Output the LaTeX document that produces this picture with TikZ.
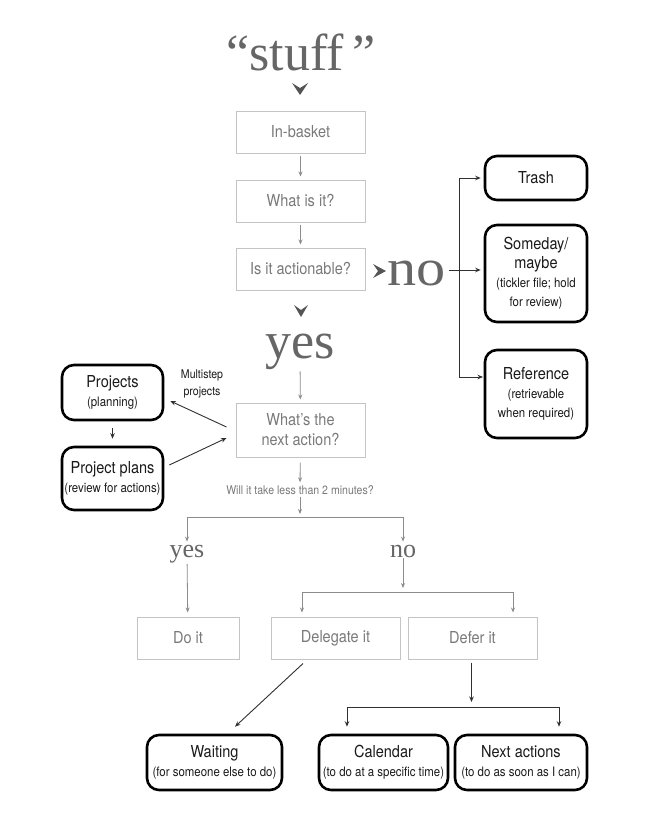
\documentclass[tikz,border=0pt]{standalone}
\usepackage{fontspec}
\setmainfont[FakeStretch=0.88]{TeX Gyre Heros}
\newfontfamily\bigserif{Liberation Serif}
\usetikzlibrary{arrows.meta,calc}
\definecolor{lbord}{HTML}{C4C4C4}
\definecolor{ltext}{HTML}{7A7A7A}
\definecolor{larrow}{HTML}{8C8C8C}
\definecolor{sertext}{HTML}{666666}
\definecolor{chevc}{HTML}{555555}
\definecolor{dtext}{HTML}{1A1A1A}
\definecolor{darrowc}{HTML}{303030}
\newcommand{\sm}[1]{{\fontsize{13}{19}\selectfont #1}}
\begin{document}
\begin{tikzpicture}[x=1pt,y=-1pt,
 lightbox/.style={draw=lbord, line width=1pt, text=ltext, minimum width=129pt, minimum height=42pt, inner sep=0pt, align=center, font=\fontsize{16.5}{20}\selectfont},
 darkbox/.style={draw=black, line width=2.6pt, rounded corners=12pt, text=dtext, inner sep=0pt, align=center, font=\fontsize{16.5}{19}\selectfont},
 garrow/.style={draw=larrow, line width=0.8pt, -{Stealth[length=5pt,width=4pt]}},
 gline/.style={draw=larrow, line width=0.8pt},
 darrowst/.style={draw=darrowc, line width=0.9pt, -{Stealth[length=5.5pt,width=4.5pt]}},
 dline/.style={draw=darrowc, line width=0.9pt},
 bigword/.style={font=\bigserif\fontsize{52}{52}\selectfont, text=sertext, inner sep=0pt},
 smallword/.style={font=\bigserif\fontsize{26}{26}\selectfont, text=sertext, inner sep=0pt},
 chev/.style={fill=chevc, draw=none}
]
\useasboundingbox[fill=white] (0,0) rectangle (646,817);

% main column
\node[bigword, anchor=base] (stuff) at (301,70) {“stuff\,”};
\fill[chev] (292,83) -- (300,88) -- (308,83) -- (300,95) -- cycle;
\node[lightbox] (inbasket) at (300.5,132) {In-basket};
\node[lightbox] (whatis) at (300.5,201) {What is it?};
\node[lightbox] (actionable) at (300.5,269) {Is it actionable?};
\fill[chev] (373,264) -- (378,271) -- (373,278) -- (386,271) -- cycle;
\node[bigword, anchor=base west, xscale=1.12] (no) at (387,285) {no};
\fill[chev] (294,305) -- (301,310) -- (308,305) -- (301,317) -- cycle;
\node[bigword, anchor=base] (yes) at (300,358) {yes};
\node[lightbox, minimum height=54pt] (nextaction) at (300.5,430) {What’s the\\next action?};
\node[text=ltext, font=\fontsize{12}{14}\selectfont, inner sep=1pt] (question) at (300,490) {Will it take less than 2 minutes?};
\node[smallword, anchor=base] (yes2) at (187,557) {yes};
\node[smallword, anchor=base] (no2) at (403,557) {no};
\node[lightbox, minimum width=102pt] (doit) at (188,638) {Do it};
\node[lightbox] (delegate) at (335.5,638) {Delegate it};
\node[lightbox] (defer) at (472.5,638) {Defer it};

% dark boxes
\node[darkbox, minimum width=102pt, minimum height=44pt] (trash) at (536,178) {Trash};
\node[darkbox, minimum width=102pt, minimum height=97pt] (someday) at (536,273.5) {Someday/\\maybe\\\sm{(tickler file; hold}\\\sm{for review)}};
\node[darkbox, minimum width=102pt, minimum height=88pt] (reference) at (536,394) {Reference\\\sm{(retrievable}\\\sm{when required)}};
\node[darkbox, minimum width=101pt, minimum height=55pt] (projects) at (112.5,392.5) {Projects\\\sm{(planning)}};
\node[darkbox, minimum width=101pt, minimum height=63pt] (plans) at (112.5,478.5) {Project plans\\\sm{(review for actions)}};
\node[text=dtext, font=\fontsize{12}{17}\selectfont, align=center, inner sep=0pt] (multi) at (202,384) {Multistep\\projects};
\node[darkbox, minimum width=135pt, minimum height=55pt] (waiting) at (214.5,762.5) {Waiting\\\sm{(for someone else to do)}};
\node[darkbox, minimum width=129pt, minimum height=55pt] (calendar) at (383.5,762.5) {Calendar\\\sm{(to do at a specific time)}};
\node[darkbox, minimum width=132pt, minimum height=55pt] (nextact) at (521,762.5) {Next actions\\\sm{(to do as soon as I can)}};

% light connectors
\draw[garrow, shorten <=2pt, shorten >=3pt] (inbasket) -- (whatis);
\draw[garrow, shorten <=2pt, shorten >=3pt] (whatis) -- (actionable);
\draw[garrow, shorten <=2pt, shorten >=3pt] (yes) -- (nextaction);
\draw[garrow, shorten <=5pt, shorten >=2pt] (nextaction) -- (question);
\coordinate (b1) at (300,517);
\draw[garrow, shorten <=1pt, shorten >=3pt] (question) -- (b1);
\draw[garrow, shorten >=3pt] (b1) -| (yes2.north);
\draw[garrow, shorten >=3pt] (b1) -| (no2.north);
\draw[garrow, shorten <=1pt, shorten >=4pt] (yes2) -- (doit);
\coordinate (b2) at (403,592);
\draw[garrow, shorten <=1pt, shorten >=4pt] (no2) -- (b2);
\coordinate (dl) at (302,592);
\coordinate (dr) at (513,592);
\draw[gline] (dl) -- (dr);
\draw[garrow, shorten >=4pt] (dl) -- (dl |- delegate.north);
\draw[garrow, shorten >=4pt] (dr) -- (dr |- defer.north);

% dark connectors
\coordinate (noj) at (459,270);
\coordinate (refin) at (486,377);
\draw[darrowst, shorten <=3pt, shorten >=3pt] (no.east |- noj) -- (someday.west |- noj);
\draw[darrowst, shorten >=3pt] (noj) |- (trash.west);
\draw[darrowst, shorten >=3pt] (noj) |- (refin);
\draw[darrowst] ($(nextaction.west)+(-9,-3)$) -- ($(projects.east)+(6,8.5)$);
\draw[darrowst] ($(plans.east)+(5,-13.5)$) -- ($(nextaction.west)+(-9,8)$);
\draw[darrowst, shorten <=7pt, shorten >=7pt] (projects) -- (plans);
\draw[darrowst] ($(delegate.south)+(-32.5,4)$) -- ($(waiting.north)+(20.5,-7)$);
\coordinate (b3) at (471.5,707);
\draw[darrowst, shorten <=3pt, shorten >=5pt] (defer.south -| b3) -- (b3);
\coordinate (cl) at (347,707);
\coordinate (cr) at (559,707);
\draw[dline] (cl) -- (cr);
\draw[darrowst, shorten >=7pt] (cl) -- (cl |- calendar.north);
\draw[darrowst, shorten >=7pt] (cr) -- (cr |- nextact.north);
\end{tikzpicture}
\end{document}
